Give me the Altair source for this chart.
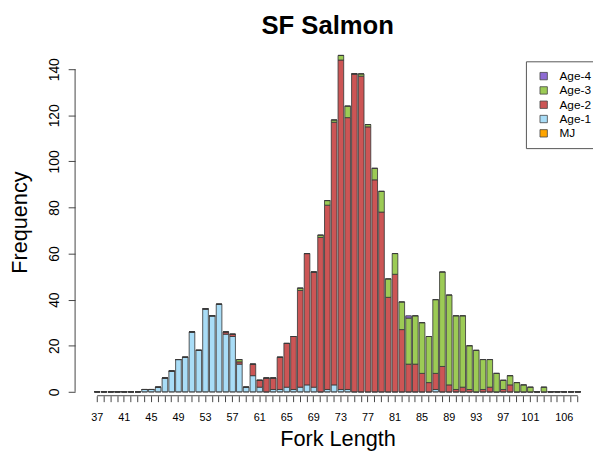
import altair as alt
import pandas as pd

lengths = list(range(37, 109))

age1 = [0, 0, 0, 0, 0, 0, 0, 1, 1, 2, 6, 9, 14, 15, 26, 18, 36, 33, 38, 25,
        24, 12, 2, 7, 2, 0, 1, 1, 2, 1, 2, 3, 2, 0, 1, 3, 1, 1, 0, 0,
        0, 0, 0, 0, 0, 0, 0, 0, 0, 0, 1, 0, 0, 0, 0, 0, 0, 0, 0, 0,
        0, 0, 0, 0, 0, 0, 0, 0, 0, 0, 0, 0]
age2 = [0, 0, 0, 0, 0, 0, 0, 0, 0, 0, 0, 0, 0, 0, 0, 0, 0, 0, 0, 1,
        1, 1, 0, 5, 3, 6, 5, 14, 19, 23, 42, 57, 50, 67, 80, 114, 143, 118, 138, 137,
        115, 92, 78, 41, 51, 27, 12, 12, 8, 4, 7, 11, 3, 1, 2, 1, 0, 1, 2, 0,
        1, 3, 0, 0, 0, 0, 0, 0, 0, 0, 0, 0]
age3 = [0, 0, 0, 0, 0, 0, 0, 0, 0, 0, 0, 0, 0, 0, 0, 0, 0, 0, 0, 0,
        0, 1, 0, 0, 0, 0, 0, 0, 0, 0, 1, 0, 0, 1, 2, 1, 2, 5, 0, 1,
        1, 5, 9, 8, 9, 12, 20, 21, 22, 20, 32, 41, 39, 32, 31, 19, 18, 13, 12, 8,
        4, 4, 4, 3, 2, 0, 2, 0, 0, 0, 0, 0]
age4 = [0, 0, 0, 0, 0, 0, 0, 0, 0, 0, 0, 0, 0, 0, 0, 0, 0, 0, 0, 0,
        0, 0, 0, 0, 0, 0, 0, 0, 0, 0, 0, 0, 0, 0, 0, 0, 0, 0, 0, 0,
        0, 0, 0, 0, 0, 0, 1, 0, 0, 0, 0, 0, 0, 0, 0, 0, 0, 0, 0, 0,
        0, 0, 0, 0, 0, 0, 0, 0, 0, 0, 0, 0]
mj = [0] * 72

series_names = ["MJ", "Age-1", "Age-2", "Age-3", "Age-4"]
series_vals = [mj, age1, age2, age3, age4]
legend_order = ["Age-4", "Age-3", "Age-2", "Age-1", "MJ"]
legend_colors = ["#8E6BD3", "#9CCB55", "#CC5555", "#A9DDF7", "#FFA500"]
label_values = [37, 41, 45, 49, 53, 57, 61, 65, 69, 73, 77, 81, 85, 89, 93, 97, 101, 106]
y_ticks = [0, 20, 40, 60, 80, 100, 120, 140]

rows = []
for k, (name, vals) in enumerate(zip(series_names, series_vals)):
    for L, v in zip(lengths, vals):
        rows.append({"len": L, "series": name, "count": v, "ord": k})
df = pd.DataFrame(rows)

FONT = "Liberation Sans"
W, H = 508, 344

xscale = alt.Scale(domain=lengths, paddingInner=0.1667, paddingOuter=0, range=[7.6, 500.4])
yscale = alt.Scale(domain=[0, 147.3], nice=False, zero=True)

label_expr = "indexof([" + ",".join(str(v) for v in label_values) + "], datum.value) >= 0 ? datum.label : ''"

bars = alt.Chart(df).mark_bar(stroke="#3a3a3a", strokeWidth=1, strokeOpacity=0.85).encode(
    x=alt.X("len:O", scale=xscale,
            axis=alt.Axis(title="Fork Length", domain=False, offset=4, tickSize=6,
                          tickColor="#444", labelAngle=0, labelFontSize=11, labelFont=FONT,
                          labelPadding=10, labelOverlap=False, labelExpr=label_expr,
                          labelColor="black", titleFont=FONT, titleFontSize=22,
                          titleFontWeight="normal", titleBaseline="alphabetic",
                          titleY=50, titleColor="black", grid=False)),
    y=alt.Y("count:Q", stack="zero", scale=yscale,
            axis=alt.Axis(title="Frequency", values=y_ticks, domain=False, offset=12,
                          tickSize=7, tickColor="#444", labelAngle=-90, labelAlign="center",
                          labelBaseline="alphabetic", labelPadding=10, labelFontSize=14,
                          labelFont=FONT, labelColor="black", titleFont=FONT,
                          titleFontSize=22, titleFontWeight="normal",
                          titleBaseline="alphabetic", titleX=-49, titleColor="black",
                          grid=False)),
    color=alt.Color("series:N", scale=alt.Scale(domain=legend_order, range=legend_colors),
                    legend=alt.Legend(title=None, orient="none", legendX=445, legendY=9,
                                      symbolType="square", symbolSize=56, symbolOffset=3,
                                      symbolStrokeColor="#444", symbolStrokeWidth=0.8,
                                      labelFont=FONT, labelFontSize=12, labelColor="black",
                                      rowPadding=2.5, padding=9, labelOffset=10,
                                      strokeColor="#555", fillColor="white")),
    order=alt.Order("ord:Q", sort="ascending"),
)

xline_df = pd.DataFrame({"a": [lengths[0]], "b": [lengths[-1]]})
xline = alt.Chart(xline_df).mark_rule(color="#444", strokeWidth=1).encode(
    x=alt.X("a:O", scale=xscale, bandPosition=0.5), x2="b", y=alt.value(H + 4)
)
yline_df = pd.DataFrame({"a": [y_ticks[0]], "b": [y_ticks[-1]]})
yline = alt.Chart(yline_df).mark_rule(color="#444", strokeWidth=1).encode(
    y=alt.Y("a:Q", scale=yscale), y2="b", x=alt.value(-12)
)

chart = alt.layer(bars, xline, yline).properties(
    width=W, height=H,
    title=alt.TitleParams("SF Salmon", font=FONT, fontSize=26, fontWeight="bold",
                          anchor="middle", dx=-10, dy=22, offset=15, baseline="alphabetic",
                          color="black"),
    autosize="none",
    background="white",
    padding={"left": 80, "top": 42, "right": 5, "bottom": 59},
).configure_view(strokeWidth=0)

chart.save("out.html", embed_options={"renderer": "svg", "actions": False})
